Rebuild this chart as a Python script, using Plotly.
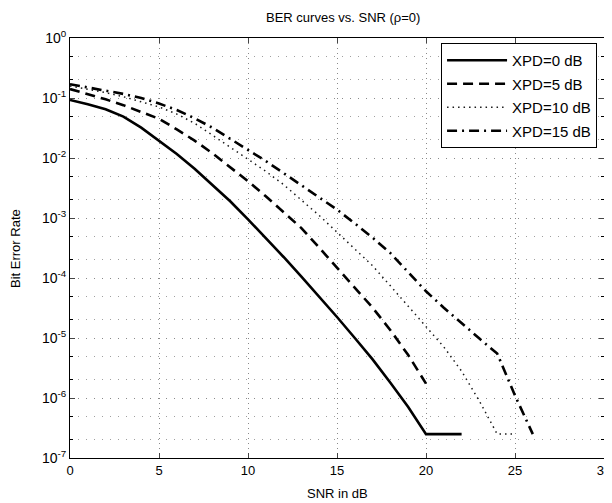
import plotly.graph_objects as go

# SNR (dB) sample points
snr_0 = [0, 1, 2, 3, 4, 5, 6, 7, 8, 9, 10, 11, 12, 13, 14, 15, 16, 17, 18, 19, 20, 21, 22]
snr_5 = [0, 1, 2, 3, 4, 5, 6, 7, 8, 9, 10, 11, 12, 13, 14, 15, 16, 17, 18, 19, 20]
snr_10 = [0, 1, 2, 3, 4, 5, 6, 7, 8, 9, 10, 11, 12, 13, 14, 15, 16, 17, 18, 19, 20, 21, 22, 23, 24, 25]
snr_15 = [0, 1, 2, 3, 4, 5, 6, 7, 8, 9, 10, 11, 12, 13, 14, 15, 16, 17, 18, 19, 20, 21, 22, 23, 24, 25, 26]

# BER values
ber_0 = [9.3e-2, 7.9e-2, 6.5e-2, 4.9e-2, 3.2e-2, 1.9e-2, 1.17e-2, 6.6e-3, 3.6e-3, 1.9e-3,
         9.5e-4, 4.7e-4, 2.24e-4, 1.05e-4, 4.9e-5, 2.24e-5, 1.0e-5, 4.4e-6, 1.8e-6, 7.1e-7,
         2.5e-7, 2.5e-7, 2.5e-7]
ber_5 = [1.41e-1, 1.17e-1, 9.5e-2, 7.6e-2, 5.9e-2, 4.5e-2, 3.0e-2, 1.95e-2, 1.2e-2, 7.1e-3,
         4.1e-3, 2.3e-3, 1.26e-3, 6.8e-4, 3.2e-4, 1.48e-4, 6.9e-5, 3.2e-5, 1.35e-5, 5.2e-6,
         1.74e-6]
ber_10 = [1.58e-1, 1.41e-1, 1.23e-1, 1.05e-1, 8.7e-2, 7.1e-2, 5.4e-2, 3.8e-2, 2.4e-2, 1.5e-2,
          9.5e-3, 6.0e-3, 3.6e-3, 2.0e-3, 1.1e-3, 5.8e-4, 3.0e-4, 1.6e-4, 7.4e-5, 3.4e-5,
          1.5e-5, 7.1e-6, 2.8e-6, 8.9e-7, 2.5e-7, 2.5e-7]
ber_15 = [1.7e-1, 1.51e-1, 1.35e-1, 1.17e-1, 1.0e-1, 8.1e-2, 6.3e-2, 4.6e-2, 3.2e-2, 2.1e-2,
          1.38e-2, 8.9e-3, 5.6e-3, 3.5e-3, 2.2e-3, 1.38e-3, 8.1e-4, 4.7e-4, 2.6e-4, 1.26e-4,
          6.0e-5, 3.2e-5, 1.74e-5, 9.8e-6, 5.5e-6, 1.1e-6, 2.5e-7]

series_names = ["XPD=0 dB", "XPD=5 dB", "XPD=10 dB", "XPD=15 dB"]

y_tickvals = [1, 1e-1, 1e-2, 1e-3, 1e-4, 1e-5, 1e-6, 1e-7]
y_ticktext = ["10<sup>0</sup>", "10<sup>-1</sup>", "10<sup>-2</sup>", "10<sup>-3</sup>",
              "10<sup>-4</sup>", "10<sup>-5</sup>", "10<sup>-6</sup>", "10<sup>-7</sup>"]
x_tickvals = [0, 5, 10, 15, 20, 25, 30]

FONT = "Liberation Sans, Arial, Helvetica, sans-serif"

fig = go.Figure()
fig.add_trace(go.Scatter(x=snr_0, y=ber_0, mode="lines", name=series_names[0], legendgroup="a",
                         line=dict(color="black", width=2.6, dash="solid")))
fig.add_trace(go.Scatter(x=snr_5, y=ber_5, mode="lines", name=series_names[1], legendgroup="b",
                         line=dict(color="black", width=2.6, dash="10px,6px")))
fig.add_trace(go.Scatter(x=snr_10, y=ber_10, mode="lines", name=series_names[2], legendgroup="c",
                         line=dict(color="#1a1a1a", width=1.5, dash="1.5px,4px")))
fig.add_trace(go.Scatter(x=snr_15, y=ber_15, mode="lines", name=series_names[3], legendgroup="d",
                         line=dict(color="black", width=2.6, dash="10px,5px,2px,5px")))

# page has an 8px body margin, so the figure is 604x495 placed at (8, 8)
fig.update_layout(
    width=604, height=495,
    margin=dict(l=62, r=8, t=30, b=45, pad=0),
    paper_bgcolor="white", plot_bgcolor="white",
    font=dict(family=FONT, size=13, color="black"),
    title=dict(text="BER curves vs. SNR (\u03c1=0)", x=0.555, xanchor="center",
               yref="container", y=1 - 9 / 495, yanchor="middle",
               font=dict(size=13, family=FONT)),
    showlegend=True,
    legend=dict(x=0.987, y=0.988, xanchor="right", yanchor="top",
                bgcolor="white", bordercolor="black", borderwidth=1,
                font=dict(size=15, family=FONT), tracegroupgap=1,
                itemwidth=60),
    annotations=[
        dict(text="SNR in dB", xref="paper", yref="paper", x=0.5, y=-0.085,
             xanchor="center", yanchor="middle", showarrow=False,
             font=dict(size=13, family=FONT)),
        dict(text="Bit Error Rate", xref="paper", yref="paper", x=-0.103, y=0.5,
             xanchor="center", yanchor="middle", showarrow=False, textangle=-90,
             font=dict(size=13, family=FONT)),
    ],
)

fig.update_xaxes(
    range=[0, 30], tickvals=x_tickvals, ticks="inside", ticklen=5,
    showline=True, linecolor="black", linewidth=1, mirror="ticks",
    showgrid=True, gridcolor="#8a8a8a", griddash="1px,4px", gridwidth=1,
    zeroline=False, automargin=False,
    tickfont=dict(size=13),
)
fig.update_yaxes(
    type="log", range=[-7, 0], tickvals=y_tickvals, ticktext=y_ticktext,
    ticks="inside", ticklen=5,
    showline=True, linecolor="black", linewidth=1, mirror="ticks",
    showgrid=True, gridcolor="#8a8a8a", griddash="1px,7px", gridwidth=1,
    minor=dict(ticks="inside", ticklen=3, showgrid=True, gridcolor="#a0a0a0",
               griddash="1px,7px", gridwidth=1, tickcolor="black"),
    zeroline=False, automargin=False,
    tickfont=dict(size=14),
)

fig.write_html("out.html")
